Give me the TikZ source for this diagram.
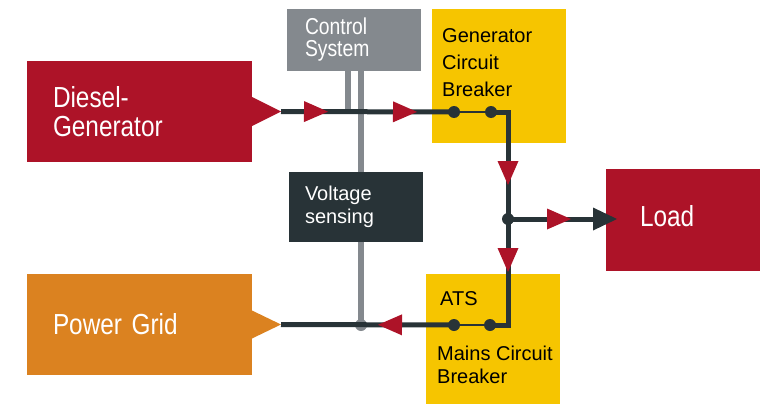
\documentclass[tikz,border=0pt]{standalone}
\usepackage{xcolor}
\usepackage{fontspec}
\setmainfont{Liberation Sans}
\newfontfamily\narrowfont[FakeStretch=0.84]{Liberation Sans}
\usepackage{tikz}
\usetikzlibrary{arrows.meta, positioning, calc, decorations.markings}

\definecolor{genred}{HTML}{AD1328}
\definecolor{gridorange}{HTML}{DB8220}
\definecolor{cbyellow}{HTML}{F6C500}
\definecolor{ctrlgray}{HTML}{84898E}
\definecolor{wirecol}{HTML}{283337}

\begin{document}
\begin{tikzpicture}[
    x=1pt, y=-1pt,
    box/.style={anchor=north west, inner ysep=0pt, outer sep=0pt, align=left},
    srcbox/.style={box, minimum width=225pt, minimum height=101pt, inner xsep=26pt, text width=173pt, text=white, font=\narrowfont\fontsize{29}{29}\selectfont},
    smallbox/.style={box, minimum width=134pt, text=white},
    cbbox/.style={box, fill=cbyellow, minimum width=134pt, minimum height=134pt, inner sep=0pt},
    txt/.style={inner sep=0pt, align=left, font=\fontsize{20}{23}\selectfont},
    wire/.style={draw=wirecol, line width=5pt},
    contact/.style={draw=wirecol, line width=2.5pt},
    ctrl/.style={draw=ctrlgray, line width=5.5pt},
    dot/.style={circle, fill=wirecol, inner sep=0pt, minimum size=12pt},
    flow/.style={postaction={decorate, decoration={markings,
        mark=at position #1 with {\arrow{Triangle[length=24pt, width=21pt, line width=0pt, color=genred, fill=genred]}}}}},
]
\useasboundingbox (0,0) rectangle (765,404);

% sources
\node[srcbox, fill=genred] (diesel) at (27,61) {Diesel-\\Generator};
\node[srcbox, fill=gridorange] (grid) at (27,274) {Power Grid};
\coordinate (dgtip) at ($(diesel.east)+(29,0)$);
\coordinate (pgtip) at ($(grid.east)+(29,0)$);
\fill[genred] ($(diesel.east)+(0,-14.5)$) -- (dgtip) -- ($(diesel.east)+(0,14.5)$) -- cycle;
\fill[gridorange] ($(grid.east)+(0,-14)$) -- (pgtip) -- ($(grid.east)+(0,14)$) -- cycle;

% control and sensing
\node[smallbox, fill=ctrlgray, minimum height=62pt, inner xsep=18pt, text width=98pt, font=\narrowfont\fontsize{23}{22}\selectfont] (ctrl) at (287,9) {Control\\System};
\node[smallbox, fill=wirecol, minimum height=70pt, inner xsep=16pt, text width=102pt, font=\fontsize{20}{23}\selectfont] (volt) at (289,172) {Voltage\\sensing};

% breakers
\node[cbbox] (gcb) at (432,9) {};
\node[txt, anchor=north west, font=\fontsize{20}{27}\selectfont] (gcbtxt) at (442,28) {Generator\\Circuit\\Breaker};
\node[cbbox, minimum height=130pt] (ats) at (426,274) {};
\node[txt, anchor=base west] (atstxt) at (440,305) {ATS};
\node[txt, anchor=north west] (mcbtxt) at (437,345.7) {Mains Circuit\\Breaker};

% load
\node[box, fill=genred, minimum width=154pt, minimum height=102pt, inner xsep=34pt, text width=86pt, text depth=9pt, text=white, font=\narrowfont\fontsize{29}{29}\selectfont] (load) at (606,169) {Load};

% wiring points
\coordinate (gc1) at (454,112);
\coordinate (gc2) at (491,112);
\coordinate (gcorner) at (508,112);
\coordinate (jct) at (508,219);
\coordinate (ac1) at (454,325);
\coordinate (ac2) at (490,325);
\coordinate (acorner) at (508,325);
\coordinate (ctap) at (348,112);
\coordinate (vtap) at (361,325);
\coordinate (loadtip) at ($(load.west |- jct)+(11,0)$);

% control lines
\draw[ctrl] (ctap |- ctrl.south) -- (ctap);
\draw[ctrl] (vtap |- ctrl.south) -- (vtap |- volt.north);
\draw[ctrl] (vtap |- volt.south) -- (vtap);
\node[circle, fill=ctrlgray, inner sep=0pt, minimum size=12pt] (vdot) at (vtap) {};

% power lines
\draw[wire, flow=47pt, flow=136pt] (dgtip) -- (gc1);
\draw[contact] (gc1) -- (gc2);
\draw[wire, flow=90pt, flow=177pt] (gc2) -- (gcorner) -- (acorner) -- (ac2);
\draw[contact] (ac2) -- (ac1);
\draw[wire, flow=76pt] (ac1) -- (pgtip);
\draw[wire, flow=63pt, -{Triangle[length=24pt, width=23pt, line width=0pt]}] (jct) -- (loadtip);

% contacts
\node[dot] (gdot1) at (gc1) {};
\node[dot] (gdot2) at (gc2) {};
\node[dot] (jdot) at (jct) {};
\node[dot] (adot1) at (ac1) {};
\node[dot] (adot2) at (ac2) {};

\end{tikzpicture}
\end{document}
